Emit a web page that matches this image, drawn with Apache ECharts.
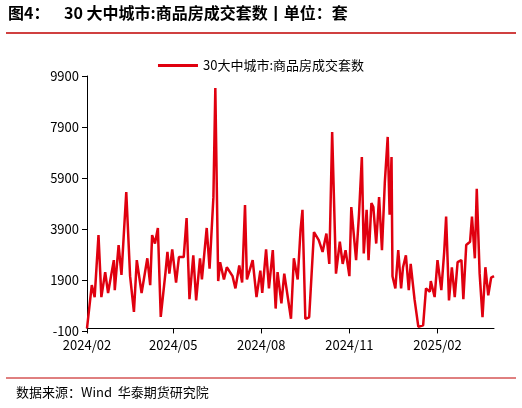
<!DOCTYPE html>
<html>
<head>
<meta charset="utf-8">
<script src="https://cdn.jsdelivr.net/npm/echarts@6/dist/echarts.min.js"></script>
<style>html,body{margin:0;padding:0;background:#fff}#main{width:522px;height:408px}</style>
</head>
<body>
<div id="main"></div>
<script>
// 距 2024-02-01 的天数
const dayOffsets = [0,5,8,12,15,19,22,28,29,33,36,41,45,49,52,57,63,66,68,71,74,77,79,82,84,86,89,93,96,101,104,107,111,114,118,120,125,128,132,134,137,139,143,146,152,155,159,162,165,167,173,177,181,183,187,190,194,197,199,203,206,213,216,220,223,
  225,228,232,237,242,246,250,253,256,260,264,267,270,274,276,281,284,287,289,292,294,297,299,302,305,308,311,314,316,318,319,322,325,328,330,333,336,338,342,346,351,354,358,359,363,366,370,373,375,378,381,384,387,391,393,396,400,402,405,407,410,413,416,419,422,425];
// 商品房成交套数
const sales = [0,1700,1230,3660,1230,2210,1390,2680,1500,3270,2100,5350,2050,650,2680,1390,2750,1700,3660,3330,3940,450,380,2210,3000,2150,3100,1800,2800,2800,4330,1150,2870,1100,2750,1920,3940,2340,5150,9430,1860,2600,1920,2400,2050,1570,2470,1800,4840,1920,2680,1230,2270,1390,3100,1570,3070,780,2210,980,2150,380,2750,1920,3870,
  4650,380,440,3780,3460,3000,3720,2530,7700,2150,3400,2530,3070,2050,4760,2680,4460,6720,2940,4650,2680,4920,4760,3330,5150,3070,5740,7510,4460,6720,2050,1570,3070,1570,2400,2870,1500,2530,1150,60,120,1570,1440,1860,1230,2680,1500,3000,4390,1100,2400,1230,2600,2680,1150,3270,3400,4390,2750,5480,2150,440,2400,1300,1990,2050];
const tickDays = [0, 90, 182, 274, 366];
const tickLabels = ['2024/02', '2024/05', '2024/08', '2024/11', '2025/02'];

const chart = echarts.init(document.getElementById('main'));
const font = '"Noto Sans CJK SC", sans-serif';
chart.setOption({
  animation: false,
  grid: { left: 87, right: 28, top: 76, bottom: 77 },
  legend: {
    top: 54, left: 'center',
    icon: 'rect', itemWidth: 40, itemHeight: 3,
    textStyle: { fontFamily: font, fontSize: 13, color: '#000' },
    data: ['30大中城市:商品房成交套数']
  },
  xAxis: {
    type: 'value', min: 0, max: 425,
    splitLine: { show: false },
    axisLine: { lineStyle: { color: '#000' } },
    axisTick: { customValues: tickDays, length: 5, lineStyle: { color: '#000' } },
    axisLabel: {
      customValues: tickDays, color: '#000', fontFamily: font, fontSize: 13, margin: 8,
      formatter: v => tickLabels[tickDays.indexOf(v)]
    }
  },
  yAxis: {
    type: 'value', min: -100, max: 9900, interval: 2000,
    splitLine: { show: false },
    axisLine: { show: true, lineStyle: { color: '#000' } },
    axisTick: { show: true, length: 5, lineStyle: { color: '#000' } },
    axisLabel: { color: '#000', fontFamily: font, fontSize: 13, formatter: v => String(v) }
  },
  series: [{
    name: '30大中城市:商品房成交套数', type: 'line', showSymbol: false,
    lineStyle: { color: '#e0000f', width: 2.5 }, itemStyle: { color: '#e0000f' },
    data: dayOffsets.map((d, i) => [d, sales[i]])
  }],
  graphic: [
    { type: 'text', left: 8, top: 5, style: { text: '图4：    30 大中城市:商品房成交套数丨单位：套', font: 'bold 16px ' + font, fill: '#000' } },
    { type: 'line', shape: { x1: 6, y1: 33, x2: 516, y2: 33 }, style: { stroke: '#c00000', lineWidth: 1.5 } },
    { type: 'line', shape: { x1: 6, y1: 378, x2: 516, y2: 378 }, style: { stroke: '#c00000', lineWidth: 1 } },
    { type: 'text', left: 16, top: 386, style: { text: '数据来源：Wind  华泰期货研究院', font: '13px ' + font, fill: '#000' } }
  ]
});
</script>
</body>
</html>
